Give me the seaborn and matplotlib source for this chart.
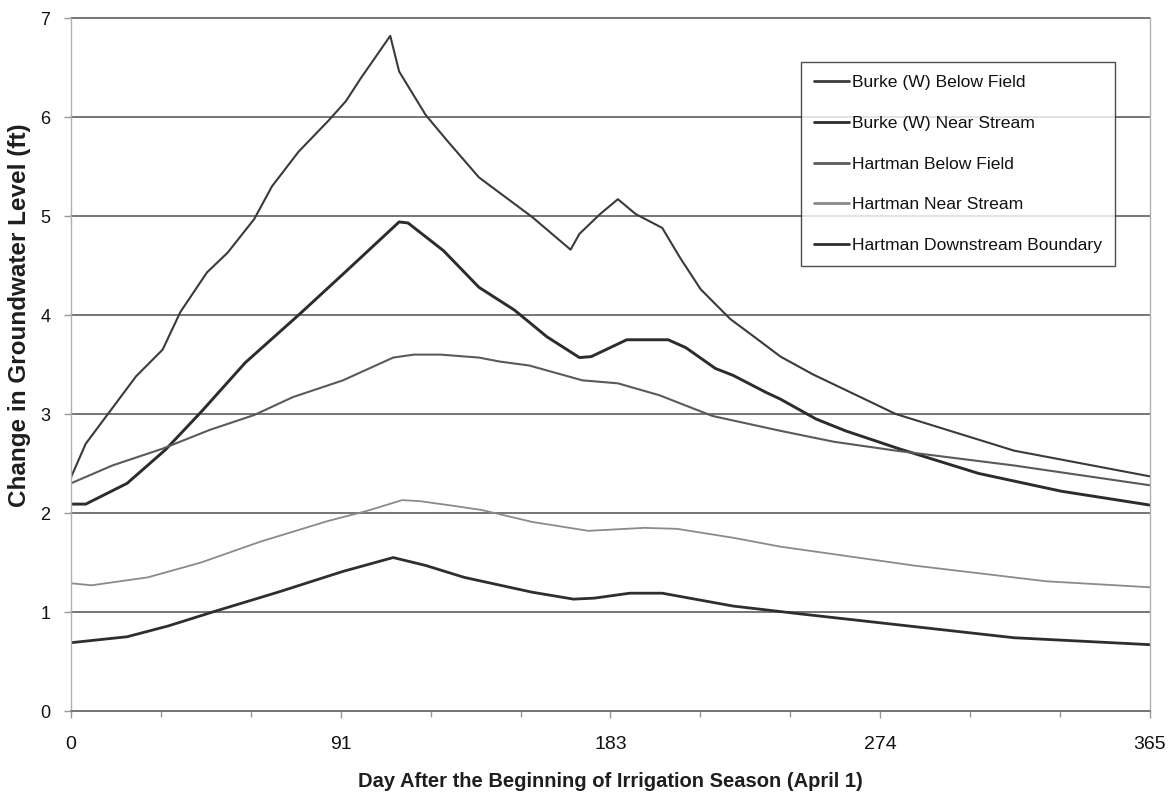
import matplotlib
matplotlib.use("Agg")
import matplotlib.pyplot as plt
from matplotlib.ticker import FixedLocator, NullFormatter
import seaborn as sns
import pandas as pd

# Day after the beginning of the irrigation season and groundwater rise (ft)
burke_below_days = [0, 5, 12, 22, 31, 37, 46, 53, 62, 68, 77, 87, 93, 98, 108, 111, 120, 127,
                    138, 147, 156, 169, 172, 179, 185, 191, 200, 206, 213, 223, 232, 240, 251,
                    279, 319, 365]
burke_below_ft = [2.36, 2.70, 2.98, 3.38, 3.65, 4.03, 4.43, 4.63, 4.97, 5.30, 5.65, 5.96, 6.16,
                  6.39, 6.82, 6.46, 6.02, 5.77, 5.39, 5.19, 4.99, 4.66, 4.82, 5.02, 5.17, 5.02,
                  4.88, 4.58, 4.26, 3.96, 3.76, 3.58, 3.40, 3.00, 2.63, 2.37]

burke_near_days = [0, 5, 19, 32, 44, 59, 77, 93, 111, 114, 126, 138, 150, 161, 172, 176, 188,
                   202, 208, 218, 224, 235, 240, 252, 262, 280, 307, 335, 365]
burke_near_ft = [2.09, 2.09, 2.30, 2.64, 3.02, 3.52, 4.00, 4.44, 4.94, 4.93, 4.65, 4.28, 4.05,
                 3.78, 3.57, 3.58, 3.75, 3.75, 3.67, 3.46, 3.39, 3.22, 3.15, 2.95, 2.83, 2.65,
                 2.40, 2.22, 2.08]

hartman_below_days = [0, 14, 31, 47, 62, 75, 92, 109, 116, 125, 138, 145, 155, 173, 185, 199,
                      217, 240, 258, 279, 319, 365]
hartman_below_ft = [2.30, 2.48, 2.65, 2.84, 2.99, 3.17, 3.34, 3.57, 3.60, 3.60, 3.57, 3.53,
                    3.49, 3.34, 3.31, 3.19, 2.98, 2.83, 2.72, 2.63, 2.48, 2.28]

hartman_near_days = [0, 7, 26, 44, 64, 87, 100, 112, 118, 130, 139, 156, 175, 194, 205, 224,
                     240, 285, 330, 365]
hartman_near_ft = [1.29, 1.27, 1.35, 1.50, 1.71, 1.92, 2.02, 2.13, 2.12, 2.07, 2.03, 1.91, 1.82,
                   1.85, 1.84, 1.75, 1.66, 1.47, 1.31, 1.25]

hartman_down_days = [0, 19, 33, 49, 70, 92, 109, 120, 133, 156, 170, 177, 189, 200, 224, 247,
                     274, 319, 365]
hartman_down_ft = [0.69, 0.75, 0.86, 1.01, 1.20, 1.41, 1.55, 1.47, 1.35, 1.20, 1.13, 1.14, 1.19,
                   1.19, 1.06, 0.98, 0.89, 0.74, 0.67]

series_names = ["Burke (W) Below Field", "Burke (W) Near Stream", "Hartman Below Field",
                "Hartman Near Stream", "Hartman Downstream Boundary"]
series_days = [burke_below_days, burke_near_days, hartman_below_days, hartman_near_days,
               hartman_down_days]
series_ft = [burke_below_ft, burke_near_ft, hartman_below_ft, hartman_near_ft, hartman_down_ft]

x_tick_values = [0, 91.25, 182.5, 273.75, 365]
x_tick_labels = ["0", "91", "183", "274", "365"]

line_colors = ["#3a3a3a", "#2c2c2c", "#5a5a5a", "#8a8a8a", "#2e2e2e"]
line_widths = [1.5, 2.1, 1.5, 1.3, 2.0]

sns.set_theme(style="white")
plt.rcParams["font.family"] = ["Liberation Sans", "DejaVu Sans"]

fig = plt.figure(figsize=(11.73, 7.97), dpi=100)
ax = fig.add_axes([0.0605, 0.1079, 0.9804 - 0.0605, 0.9774 - 0.1079])

for name, days, ft, col, lw in zip(series_names, series_days, series_ft, line_colors, line_widths):
    frame = pd.DataFrame({"day": days, "ft": ft})
    sns.lineplot(data=frame, x="day", y="ft", ax=ax, color=col, linewidth=lw, label=name)

ax.set_xlim(0, 365)
ax.set_ylim(0, 7)

# horizontal gridlines, including the one that closes the top of the plot
ax.set_yticks(range(0, 8))
ax.yaxis.grid(True, color="#5e5e5e", linewidth=1.2)
for gl in ax.yaxis.get_gridlines():
    gl.set_clip_on(False)
ax.xaxis.grid(False)
ax.set_axisbelow(True)

ax.xaxis.set_major_locator(FixedLocator(x_tick_values))
ax.set_xticklabels(x_tick_labels)
ax.xaxis.set_minor_locator(FixedLocator([365 / 12 * i for i in range(13)]))
ax.xaxis.set_minor_formatter(NullFormatter())

ax.tick_params(axis="both", which="major", colors="#999999", labelcolor="#111111",
               length=5, width=1, direction="out")
ax.tick_params(axis="x", which="major", labelsize=14, pad=13)
ax.tick_params(axis="y", which="major", labelsize=13, pad=10)
ax.tick_params(axis="x", which="minor", colors="#999999", length=4, width=1, direction="out")
ax.tick_params(axis="x", which="both", bottom=True)
ax.tick_params(axis="y", which="both", left=True)

for side in ["left", "right"]:
    ax.spines[side].set_color("#b0b0b0")
    ax.spines[side].set_linewidth(1.0)
ax.spines["bottom"].set_color("#777777")
ax.spines["bottom"].set_linewidth(1.2)
ax.spines["top"].set_visible(False)

ax.set_xlabel("Day After the Beginning of Irrigation Season (April 1)", fontsize=14.5,
              fontweight="bold", color="#1e1e1e", labelpad=14)
ax.set_ylabel("Change in Groundwater Level (ft)", fontsize=17.5, fontweight="bold",
              color="#1e1e1e")
ax.yaxis.set_label_coords(-0.037, 0.571)

leg = ax.legend(loc="upper right", bbox_to_anchor=(0.9676, 0.9365), borderaxespad=0,
                fontsize=12.6, frameon=True, fancybox=False, handlelength=2.0,
                handletextpad=0.17, labelspacing=1.45, borderpad=0.75)
leg.get_frame().set_edgecolor("#222222")
leg.get_frame().set_linewidth(1.0)
for t in leg.get_texts():
    t.set_color("#111111")
for h in leg.get_lines():
    h.set_linewidth(2.0)

fig.savefig("out.png", dpi=100)
